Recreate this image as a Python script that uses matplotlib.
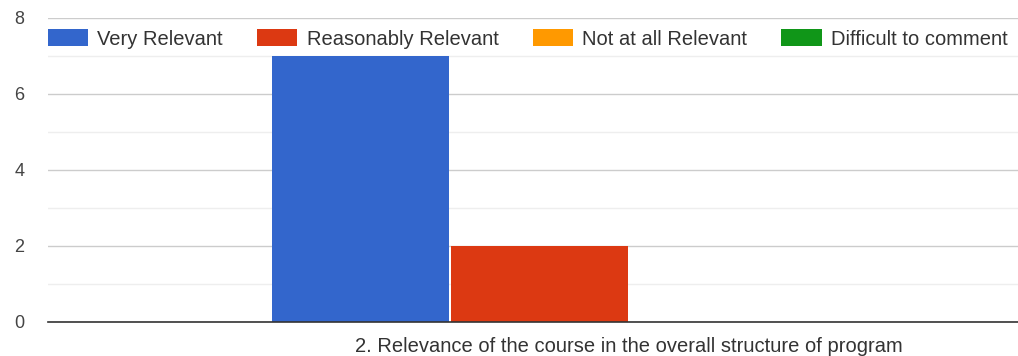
import matplotlib
matplotlib.use("Agg")
import matplotlib.pyplot as plt
from matplotlib.patches import Patch

plt.rcParams['font.family'] = ['Liberation Sans', 'DejaVu Sans']

# datos
series = ['Very Relevant', 'Reasonably Relevant', 'Not at all Relevant', 'Difficult to comment']
values = [7, 2, 0, 0]
colors = ['#3366cc', '#dc3912', '#ff9900', '#109618']
category = '2. Relevance of the course in the overall structure of program'
yticks = [0, 2, 4, 6, 8]

fig = plt.figure(figsize=(10.18, 3.56), dpi=100)
ax = fig.add_axes([48/1018, 34/356, 970/1018, 304/356])

xs = list(range(len(series)))
ax.bar(xs, values, width=0.99, color=colors, zorder=3)

ax.set_xlim(-1.746, 3.673)
ax.set_ylim(0, 8)
ax.set_yticks(yticks)
ax.set_yticks([1, 3, 5, 7], minor=True)
ax.set_yticklabels([str(t) for t in yticks], fontsize=13, color='#444444')
ax.tick_params(axis='y', which='both', length=0, pad=17)
ax.set_xticks([1.5])
ax.set_xticklabels([category], fontsize=14.5, color='#333333')
ax.tick_params(axis='x', length=0, pad=10.5)

ax.grid(axis='y', which='major', color='#cccccc', linewidth=1, zorder=0)
ax.grid(axis='y', which='minor', color='#eeeeee', linewidth=1, zorder=0)
for s in ['top', 'right', 'left']:
    ax.spines[s].set_visible(False)
ax.spines['bottom'].set_color('#333333')
ax.spines['bottom'].set_linewidth(1.2)
ax.spines['bottom'].set_zorder(4)

handles = [Patch(facecolor=c, edgecolor='none') for c in colors]
leg = ax.legend(handles, series, ncol=4, loc='center left', bbox_to_anchor=(0.0, 0.931),
                frameon=False, fontsize=14.5, handlelength=2.0, handleheight=0.9,
                handletextpad=0.45, columnspacing=1.7, borderaxespad=0, borderpad=0)
for t in leg.get_texts():
    t.set_color('#333333')

fig.savefig('out.png', dpi=100)
